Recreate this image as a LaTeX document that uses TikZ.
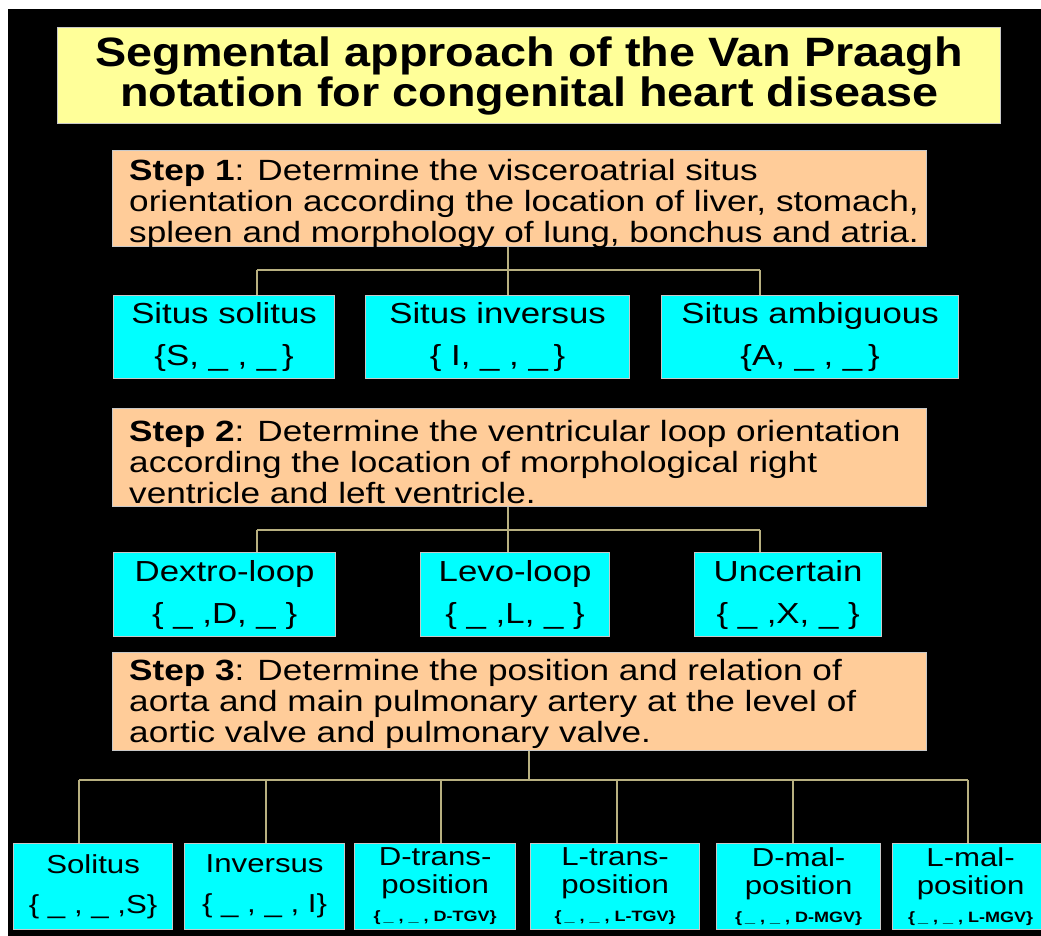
\documentclass[tikz,border=0pt]{standalone}
\usepackage{fontspec}
\setmainfont{Liberation Sans}
\usepackage{graphicx}
\definecolor{titley}{HTML}{FFFF99}
\definecolor{stepo}{HTML}{FFCC99}
\definecolor{boxc}{HTML}{00FFFF}
\definecolor{conn}{HTML}{B8B080}
\definecolor{edge}{HTML}{C8C8C8}
\newcommand\sx[1]{\scalebox{1.2}[1]{#1}}
\newcommand\tx[1]{\scalebox{1.14}[1]{#1}}
\begin{document}
\begin{tikzpicture}[x=1pt,y=-1pt,
  titlebox/.style={draw=edge, line width=1.2pt, fill=titley, anchor=north west, inner sep=0pt, align=center,
    font=\fontsize{41}{40}\selectfont\bfseries},
  stepbox/.style={draw=edge, line width=1.2pt, fill=stepo, anchor=north west, inner sep=0pt},
  steptext/.style={anchor=west, inner sep=0pt, align=left, font=\fontsize{29.3}{31}\selectfont},
  leafbox/.style={draw=edge, line width=1.2pt, fill=boxc, anchor=north west, inner sep=0pt, align=center,
    font=\fontsize{29}{42}\selectfont},
  lowbox/.style={draw=edge, line width=1.2pt, fill=boxc, anchor=north west, inner sep=0pt, align=center,
    font=\fontsize{26}{28}\selectfont},
  link/.style={draw=conn, line width=1.5pt}]
\useasboundingbox (0,0) rectangle (1041,936);
\fill[white] (0,0) rectangle (1041,936);
\fill[black] (8,9) rectangle (1041,936);

% title
\node[titlebox, minimum width=943pt, minimum height=96pt] (title) at (57,27)
  {\tx{Segmental approach of the Van Praagh}\\ \tx{notation for congenital heart disease}};

% step 1
\node[stepbox, minimum width=814pt, minimum height=96pt] (st1) at (112,150) {};
\node[steptext] (t1) at ([xshift=17pt,yshift=-5pt]st1.west)
  {\sx{\textbf{Step 1}: Determine the visceroatrial situs}\\
   \sx{orientation according the location of liver, stomach,}\\
   \sx{spleen and morphology of lung, bonchus and atria.}};

\node[leafbox, minimum width=221pt, minimum height=83pt] (s1) at (113,295) {\sx{Situs solitus}\\ \sx{\{S, \_ , \_\,\}}};
\node[leafbox, minimum width=264pt, minimum height=83pt] (s2) at (365,295) {\sx{Situs inversus}\\ \sx{\{ I, \_ , \_\,\}}};
\node[leafbox, minimum width=297pt, minimum height=83pt] (s3) at (661,295) {\sx{Situs ambiguous}\\ \sx{\{A, \_ , \_\,\}}};

\coordinate (j1) at (508,270);
\coordinate (b1a) at (257,270);
\coordinate (b1c) at (760,270);
\draw[link] (st1.south -| j1) -- (j1);
\draw[link] (b1a) -- (b1c);
\draw[link] (b1a) -- (s1.north -| b1a);
\draw[link] (j1) -- (s2.north -| j1);
\draw[link] (b1c) -- (s3.north -| b1c);

% step 2
\node[stepbox, minimum width=814pt, minimum height=98pt] (st2) at (112,408) {};
\node[steptext] (t2) at ([xshift=17pt,yshift=-4pt]st2.west)
  {\sx{\textbf{Step 2}: Determine the ventricular loop orientation}\\
   \sx{according the location of morphological right}\\
   \sx{ventricle and left ventricle.}};

\node[leafbox, minimum width=222pt, minimum height=84pt] (d1) at (113,552) {\sx{Dextro-loop}\\ \sx{\{ \_ ,D, \_ \}}};
\node[leafbox, minimum width=189pt, minimum height=84pt] (d2) at (420,552) {\sx{Levo-loop}\\ \sx{\{ \_ ,L, \_ \}}};
\node[leafbox, minimum width=187pt, minimum height=84pt] (d3) at (694,552) {\sx{Uncertain}\\ \sx{\{ \_ ,X, \_ \}}};

\coordinate (j2) at (508,530);
\coordinate (b2a) at (257,530);
\coordinate (b2c) at (760,530);
\draw[link] (st2.south -| j2) -- (j2);
\draw[link] (b2a) -- (b2c);
\draw[link] (b2a) -- (d1.north -| b2a);
\draw[link] (j2) -- (d2.north -| j2);
\draw[link] (b2c) -- (d3.north -| b2c);

% step 3
\node[stepbox, minimum width=814pt, minimum height=98pt] (st3) at (112,652) {};
\node[steptext] (t3) at ([xshift=17pt,yshift=-2pt]st3.west)
  {\sx{\textbf{Step 3}: Determine the position and relation of}\\
   \sx{aorta and main pulmonary artery at the level of}\\
   \sx{aortic valve and pulmonary valve.}};

\node[lowbox, minimum width=159pt, minimum height=86pt] (p1) at (13,843) {\sx{Solitus}\\[12pt] \sx{\{ \_ , \_ ,S\}}};
\node[lowbox, minimum width=160pt, minimum height=86pt] (p2) at (184,843) {\sx{Inversus}\\[12pt] \sx{\{ \_ , \_ , I\}}};
\node[lowbox, minimum width=161pt, minimum height=86pt] (p3) at (354,843)
  {\sx{D-trans-}\\ \sx{position}\\ {\fontsize{15}{12}\selectfont\bfseries\sx{\{\,\_ , \_ , D-TGV\}}}};
\node[lowbox, minimum width=169pt, minimum height=86pt] (p4) at (530,843)
  {\sx{L-trans-}\\ \sx{position}\\ {\fontsize{15}{12}\selectfont\bfseries\sx{\{\,\_ , \_ , L-TGV\}}}};
\node[lowbox, minimum width=164pt, minimum height=86pt] (p5) at (716,843)
  {\sx{D-mal-}\\ \sx{position}\\ {\fontsize{15}{12}\selectfont\bfseries\sx{\{\,\_ , \_ , D-MGV\}}}};
\node[lowbox, minimum width=156pt, minimum height=86pt] (p6) at (892,843)
  {\sx{L-mal-}\\ \sx{position}\\ {\fontsize{15}{12}\selectfont\bfseries\sx{\{\,\_ , \_ , L-MGV\}}}};

\coordinate (j3) at (529,780);
\coordinate (c1) at (79,780);
\coordinate (c2) at (266,780);
\coordinate (c3) at (441,780);
\coordinate (c4) at (617,780);
\coordinate (c5) at (793,780);
\coordinate (c6) at (968,780);
\draw[link] (st3.south -| j3) -- (j3);
\draw[link] (c1) -- (c6);
\draw[link] (c1) -- (p1.north -| c1);
\draw[link] (c2) -- (p2.north -| c2);
\draw[link] (c3) -- (p3.north -| c3);
\draw[link] (c4) -- (p4.north -| c4);
\draw[link] (c5) -- (p5.north -| c5);
\draw[link] (c6) -- (p6.north -| c6);
\end{tikzpicture}
\end{document}
